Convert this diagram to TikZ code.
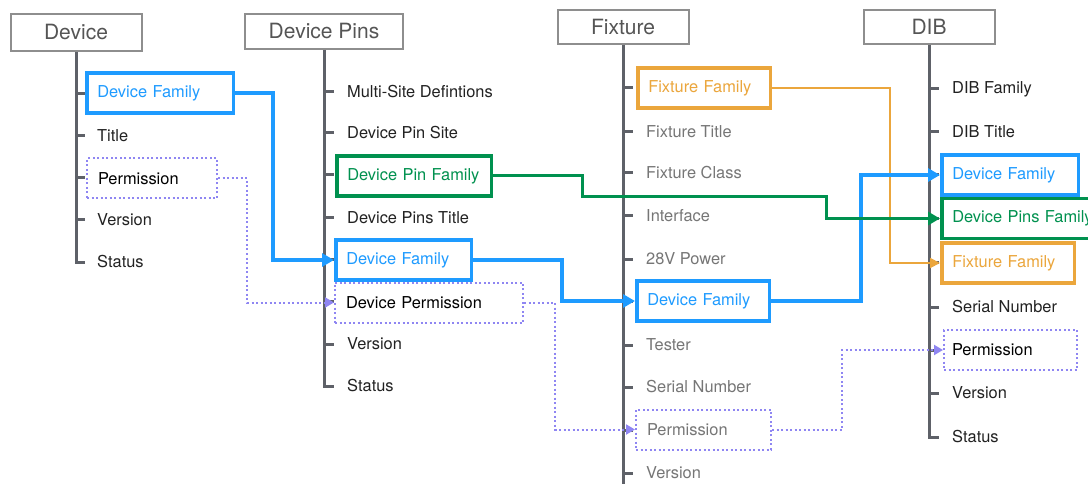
\documentclass[tikz,border=0pt]{standalone}
\usepackage{fontspec}
\setmainfont{TeX Gyre Heros}
\usetikzlibrary{arrows.meta,positioning}
\definecolor{dbInk}   {HTML}{222222}
\definecolor{dbMute}  {HTML}{767676}
\definecolor{dbFrame} {HTML}{8E8E8E}
\definecolor{dbHead}  {HTML}{555555}
\definecolor{dbSpine} {HTML}{5E6168}
\definecolor{dbBlue}  {HTML}{1E9BFF}
\definecolor{dbGreen} {HTML}{00914F}
\definecolor{dbOrange}{HTML}{EBA63C}
\definecolor{dbPerm}  {HTML}{8F86F2}

\begin{document}
\begin{tikzpicture}[x=1pt,y=-1pt,font=\fontsize{16.4}{19}\selectfont,
    head/.style={draw=dbFrame,line width=2pt,text=dbHead,fill=white,
                 font=\fontsize{21}{25}\selectfont,minimum width=131pt,
                 minimum height=35pt,inner sep=0pt},
    item/.style={anchor=west,inner sep=0pt,text=dbInk},
    fam/.style={draw=#1,text=#1,fill=white,line width=3.5pt,anchor=west,
                inner xsep=10.5pt,inner ysep=0pt,minimum height=40pt,align=left},
    permbox/.style={draw=dbPerm,line width=2pt,dash pattern=on 2pt off 2.5pt,
                fill=white,anchor=west,inner xsep=11pt,inner ysep=0pt,
                minimum height=40pt,align=left},
    spine/.style={draw=dbSpine,line width=3pt},
    link/.style={draw=#1,line width=3.5pt,-{Triangle[length=12pt,width=13pt]}},
    permlink/.style={draw=dbPerm,line width=2pt,dash pattern=on 2pt off 2.5pt,
                -{Triangle[length=9pt,width=10pt]}}]

  \useasboundingbox[fill=white] (0,0) rectangle (1088,484);
  \clip (0,0) rectangle (1088,484);

  % column headers
  \node[head,minimum height=37pt] (hDev) at (76,32.5) {Device};
  \node[head,minimum width=158pt] (hPins) at (324,31.5) {Device Pins};
  \node[head,minimum height=34pt] (hFix) at (623,27) {Fixture};
  \node[head,minimum height=34pt] (hDib) at (929,27) {DIB};

  % spines and ticks
  \draw[spine] (hDev.south) -- (76,262) -- (85,262);
  \foreach \y in {94,136,178,220} \draw[spine] (76,\y) -- ++(9,0);
  \draw[spine] (hPins.south) -- (324,386) -- (334,386);
  \foreach \y in {92,133,175,218,259,301,344} \draw[spine] (324,\y) -- ++(10,0);
  \draw[spine] (hFix.south) -- (623,490);
  \foreach \y in {88,132,173,216,259,301,345,387,430,473} \draw[spine] (623,\y) -- ++(10,0);
  \draw[spine] (hDib.south) -- (929,437) -- (939,437);
  \foreach \y in {89,132,175,219,262,307,350,393} \draw[spine] (929,\y) -- ++(10,0);

  % Device
  \node[fam=dbBlue,text width=125.5pt] (dFam) at (85,93) {Device Family};
  \node[item] (dTitle) at (97,136) {Title};
  \node[permbox,text width=108pt] (dPerm) at (86,178.5) {Permission};
  \node[item] (dVer) at (97,220) {Version};
  \node[item] (dStat) at (97,262) {Status};

  % Device Pins
  \node[item] (dpMulti) at (347,92) {Multi-Site Defintions};
  \node[item] (dpSite) at (347,133) {Device Pin Site};
  \node[fam=dbGreen,text width=133.5pt] (dpPinFam) at (335,176) {Device Pin Family};
  \node[item] (dpTitle) at (347,218) {Device Pins Title};
  \node[fam=dbBlue,text width=114.5pt] (dpFam) at (334,260) {Device Family};
  \node[permbox,text width=166pt] (dpPerm) at (334,302.5) {Device Permission};
  \node[item] (dpVer) at (347,344) {Version};
  \node[item] (dpStat) at (347,386) {Status};

  % Fixture
  \node[fam=dbOrange,text width=111.5pt] (fxFam) at (636,88) {Fixture Family};
  \node[item,text=dbMute] (fxTitle) at (646,132) {Fixture Title};
  \node[item,text=dbMute] (fxClass) at (646,173) {Fixture Class};
  \node[item,text=dbMute] (fxIface) at (646,216) {Interface};
  \node[item,text=dbMute] (fxPower) at (646,259) {28V Power};
  \node[fam=dbBlue,text width=111.5pt] (fxDevFam) at (635,301) {Device Family};
  \node[item,text=dbMute] (fxTester) at (646,345) {Tester};
  \node[item,text=dbMute] (fxSerial) at (646,387) {Serial Number};
  \node[permbox,text=dbMute,text width=113pt] (fxPerm) at (635,429.5) {Permission};
  \node[item,text=dbMute] (fxVer) at (646,473) {Version};

  % DIB
  \node[item] (dibFam) at (952,89) {DIB Family};
  \node[item] (dibTitle) at (952,132) {DIB Title};
  \node[fam=dbBlue,text width=115.5pt] (dibDevFam) at (940,175) {Device Family};
  \node[fam=dbGreen,text width=140.5pt] (dibPinFam) at (940,218.5) {Device Pins Family};
  \node[fam=dbOrange,text width=111.5pt] (dibFxFam) at (940,263) {Fixture Family};
  \node[item] (dibSerial) at (952,307) {Serial Number};
  \node[permbox,inner xsep=8pt,text width=117pt] (dibPerm) at (943,350) {Permission};
  \node[item] (dibVer) at (952,393) {Version};
  \node[item] (dibStat) at (952,437) {Status};

  % links
  \draw[link=dbOrange,line width=2pt,-{Triangle[length=10pt,width=10pt]}]
    (fxFam.east) -- ++(118,0) |- (dibFxFam.west);
  \draw[link=dbBlue] (dFam.east) -- ++(38,0) |- (dpFam.west);
  \draw[link=dbBlue] (dpFam.east) -- ++(89,0) |- (fxDevFam.west);
  \draw[link=dbBlue] (fxDevFam.east) -- ++(90,0) |- (dibDevFam.west);
  \draw[link=dbGreen,line width=3pt]
    (dpPinFam.east) -- ++(89,0) -- ++(0,21) -- ++(244,0) |- (dibPinFam.west);
  \draw[permlink] (dPerm.east) -- ++(29,0) |- (dpPerm.west);
  \draw[permlink] (dpPerm.east) -- ++(31,0) |- (fxPerm.west);
  \draw[permlink] (fxPerm.east) -- ++(70,0) |- (dibPerm.west);
\end{tikzpicture}
\end{document}
